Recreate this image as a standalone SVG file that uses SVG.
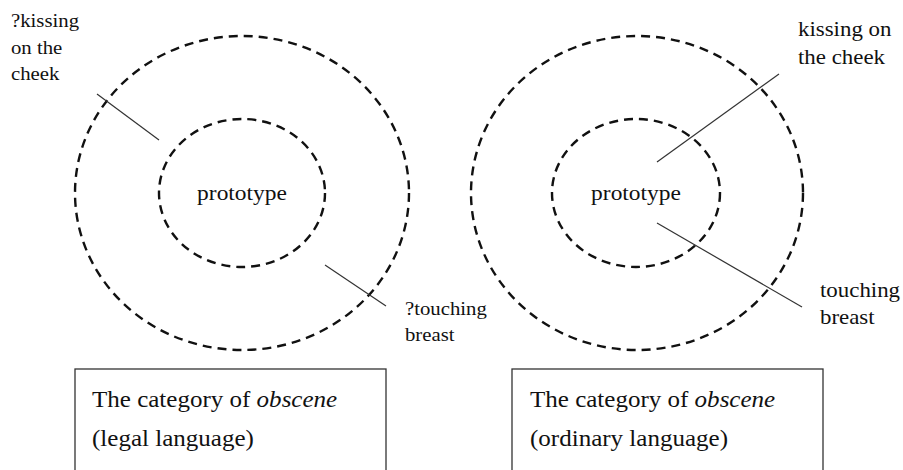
<svg xmlns="http://www.w3.org/2000/svg" width="903" height="470" viewBox="0 0 903 470">
  <style>
    .ring { fill: none; stroke: #111; stroke-width: 2.4; stroke-dasharray: 9 6; }
    .tick { stroke: #333; stroke-width: 1.2; fill: none; }
    .box { fill: #fff; stroke: #333; stroke-width: 1.3; }
    text { font-family: "Liberation Serif", "Times New Roman", serif; fill: #111; }
    .lbl-s { font-size: 19.5px; }
    .lbl-m { font-size: 21.5px; }
    .core { font-size: 22px; text-anchor: middle; }
    .cap { font-size: 23.5px; }
  </style>
  <rect width="903" height="470" fill="#fff"/>

  <!-- legal-language category -->
  <g id="legal-outer">
    <ellipse class="ring" cx="242" cy="193" rx="167" ry="157"/>
  </g>
  <g id="legal-core">
    <ellipse class="ring" cx="242" cy="193" rx="83" ry="74"/>
    <text class="core" transform="translate(242 200) scale(1.065 1)">prototype</text>
  </g>

  <!-- ordinary-language category -->
  <g id="ordinary-outer">
    <ellipse class="ring" cx="637" cy="193" rx="166" ry="157"/>
  </g>
  <g id="ordinary-core">
    <ellipse class="ring" cx="636" cy="193" rx="84" ry="74"/>
    <text class="core" transform="translate(636 200) scale(1.065 1)">prototype</text>
  </g>

  <!-- pointer lines -->
  <g id="connectors">
    <line class="tick" x1="97" y1="94" x2="159" y2="140"/>
    <line class="tick" x1="325" y1="265" x2="386" y2="306"/>
    <line class="tick" x1="657" y1="162" x2="779" y2="74"/>
    <line class="tick" x1="657" y1="223" x2="802" y2="307"/>
  </g>

  <!-- example labels -->
  <g id="label-kiss-legal">
    <text class="lbl-s" transform="translate(11 27) scale(1.065 1)">?kissing</text>
    <text class="lbl-s" transform="translate(11 53.5) scale(1.065 1)">on the</text>
    <text class="lbl-s" transform="translate(11 80) scale(1.065 1)">cheek</text>
  </g>
  <g id="label-touch-legal">
    <text class="lbl-s" transform="translate(405 315) scale(1.065 1)">?touching</text>
    <text class="lbl-s" transform="translate(405 341) scale(1.065 1)">breast</text>
  </g>
  <g id="label-kiss-ordinary">
    <text class="lbl-m" transform="translate(798 36) scale(1.065 1)">kissing on</text>
    <text class="lbl-m" transform="translate(798 64) scale(1.065 1)">the cheek</text>
  </g>
  <g id="label-touch-ordinary">
    <text class="lbl-m" transform="translate(820 297) scale(1.065 1)">touching</text>
    <text class="lbl-m" transform="translate(820 324) scale(1.065 1)">breast</text>
  </g>

  <!-- caption boxes -->
  <g id="caption-legal">
    <rect class="box" x="75" y="369" width="311" height="130"/>
    <text class="cap" transform="translate(92 407) scale(1.065 1)">The category of <tspan font-style="italic">obscene</tspan></text>
    <text class="cap" transform="translate(92 446) scale(1.065 1)">(legal language)</text>
  </g>
  <g id="caption-ordinary">
    <rect class="box" x="512" y="369" width="311" height="130"/>
    <text class="cap" transform="translate(530 407) scale(1.065 1)">The category of <tspan font-style="italic">obscene</tspan></text>
    <text class="cap" transform="translate(530 446) scale(1.065 1)">(ordinary language)</text>
  </g>
</svg>
